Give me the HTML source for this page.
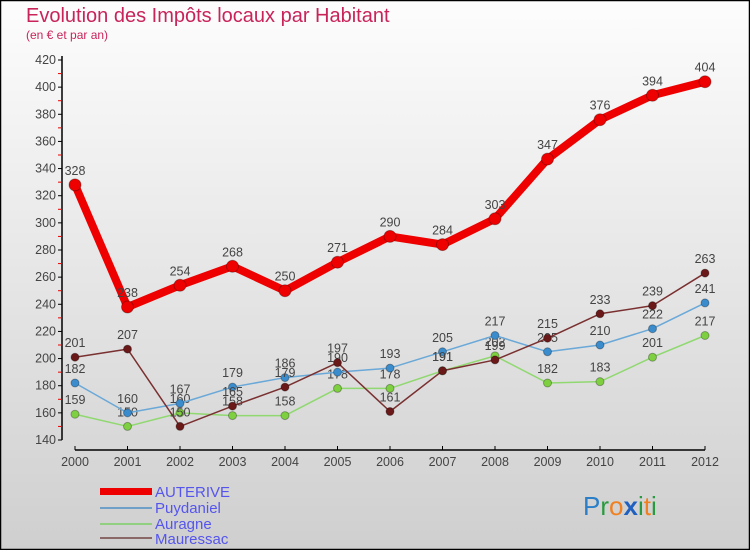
<!DOCTYPE html>
<html><head><meta charset="utf-8"><style>
body{margin:0;width:750px;height:550px;overflow:hidden;font-family:"Liberation Sans",sans-serif}
svg{display:block}
</style></head><body>
<svg id="c" width="750" height="550" xmlns="http://www.w3.org/2000/svg">
<defs><linearGradient id="bg" x1="0" y1="0" x2="0" y2="1"><stop offset="0" stop-color="#fdfdfd"/><stop offset="1" stop-color="#cfcfcf"/></linearGradient></defs>
<rect x="0.5" y="0.5" width="749" height="549" fill="url(#bg)" stroke="#000" stroke-width="1.5"/>
<text x="26" y="22" font-size="20" fill="#c8245a">Evolution des Impôts locaux par Habitant</text>
<text x="26" y="39" font-size="12" fill="#c8245a">(en € et par an)</text>
<g id="axes"></g><g id="series"></g>
<g font-size="15">
<rect x="100" y="488" width="52" height="7" fill="#e00"/>
<text x="155" y="497" fill="#5555ee">AUTERIVE</text>
<line x1="100" y1="508" x2="152" y2="508" stroke="#6fa0c8" stroke-width="2"/>
<text x="155" y="513" fill="#5555ee">Puydaniel</text>
<line x1="100" y1="524" x2="152" y2="524" stroke="#90d080" stroke-width="2"/>
<text x="155" y="529" fill="#5555ee">Auragne</text>
<line x1="100" y1="538" x2="152" y2="538" stroke="#8a6868" stroke-width="2"/>
<text x="155" y="544" fill="#5555ee">Mauressac</text>
</g>
<text x="583" y="515" font-size="26" font-family="Liberation Sans,sans-serif"><tspan fill="#2a7fc8">P</tspan><tspan fill="#2a9a40">r</tspan><tspan fill="#f08020">o</tspan><tspan fill="#2060c0" font-weight="bold">x</tspan><tspan fill="#2a9a40">i</tspan><tspan fill="#f08020">t</tspan><tspan fill="#2a9a40">i</tspan></text>
</svg>
<script>
const years=[2000,2001,2002,2003,2004,2005,2006,2007,2008,2009,2010,2011,2012];
const yTicks=[140,160,180,200,220,240,260,280,300,320,340,360,380,400,420];
const auterive=[328,238,254,268,250,271,290,284,303,347,376,394,404];
const puydaniel=[182,160,167,179,186,190,193,205,217,205,210,222,241];
const auragne=[159,150,160,158,158,178,178,191,202,182,183,201,217];
const mauressac=[201,207,150,165,179,197,161,191,199,215,233,239,263];
const NS="http://www.w3.org/2000/svg";
const X=i=>75+i*52.5;
const Y=v=>440-(v-140)*(380/280);
function mk(t,a,p){const e=document.createElementNS(NS,t);for(const k in a)e.setAttribute(k,a[k]);p.appendChild(e);return e;}
const ax=document.getElementById('axes');
let e=mk('line',{x1:62,y1:56,x2:62,y2:440,stroke:'#000','stroke-width':1.5},ax);


e=mk('line',{x1:75,y1:450,x2:705,y2:450,stroke:'#000','stroke-width':1.5},ax);


yTicks.forEach((v,i)=>{
 mk('line',{x1:58,y1:Y(v),x2:62,y2:Y(v),stroke:'#000'},ax);
 if(i<yTicks.length-1) mk('line',{x1:58,y1:Y(v+10),x2:62,y2:Y(v+10),stroke:'#e00'},ax);
 const t=mk('text',{x:56,y:Y(v)+4,'font-size':12.5,fill:'#444','text-anchor':'end'},ax);t.textContent=v;
 
 
});
years.forEach((yr,i)=>{
 mk('line',{x1:X(i),y1:446,x2:X(i),y2:450,stroke:'#000'},ax);
 const t=mk('text',{x:X(i),y:466,'font-size':12.5,fill:'#444','text-anchor':'middle'},ax);t.textContent=yr;
 
 
});
const sg=document.getElementById('series');
function draw(name,data,col,w,r,dot){
 const g=mk('g',{},sg);
 
 
 const l=mk('polyline',{points:data.map((v,i)=>X(i)+','+Y(v)).join(' '),fill:'none',stroke:col,'stroke-width':w,'stroke-linejoin':'round'},g);
 
 
 data.forEach((v,i)=>{
  const c=mk('circle',{cx:X(i),cy:Y(v),r:r,fill:dot,stroke:'rgba(0,0,0,0.3)','stroke-width':1},g);
  
  
  const t=mk('text',{x:X(i),y:Y(v)-10,'font-size':12.5,fill:'#444','text-anchor':'middle'},g);t.textContent=v;
  
  
 });
}
draw('auragne',auragne,'#90d870',1.5,4,'#7ed040');
draw('puydaniel',puydaniel,'#6aa8d8',1.5,4,'#3a8ccc');
draw('mauressac',mauressac,'#7a3030',1.5,4,'#6a1818');
draw('auterive',auterive,'#e00',8,6,'#e00');
</script>
</body></html>
